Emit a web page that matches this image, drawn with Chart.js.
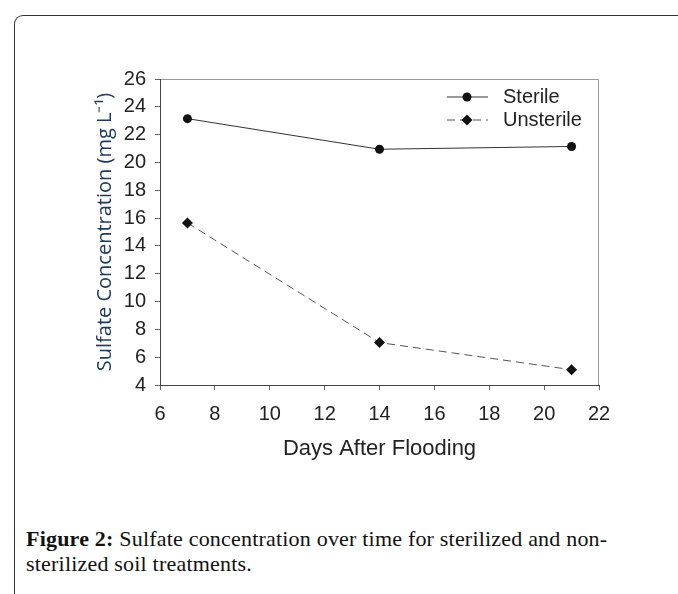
<!DOCTYPE html>
<html>
<head>
<meta charset="utf-8">
<script src="https://cdn.jsdelivr.net/npm/chart.js@4/dist/chart.umd.min.js"></script>
<style>
  body { margin: 0; background: #fff; }
  #wrap { position: relative; width: 678px; height: 594px; overflow: hidden; }
  #frame {
    position: absolute; left: 14px; top: 15px; width: 700px; height: 620px;
    border-left: 1.5px solid #333; border-top: 1.5px solid #333;
    border-top-left-radius: 9px;
  }
  #chartBox { position: absolute; left: 0; top: 0; width: 678px; height: 480px; }
  #caption {
    position: absolute; left: 26px; top: 526px;
    font-family: "Liberation Serif", serif; font-size: 22px; line-height: 25px;
    letter-spacing: 0.2px; color: #111;
  }
</style>
</head>
<body>
<div id="wrap">
  <div id="frame"></div>
  <div id="chartBox"><canvas id="myChart" width="678" height="480"></canvas></div>
  <div id="caption"><b>Figure 2:</b> Sulfate concentration over time for sterilized and non-<br>sterilized soil treatments.</div>
</div>
<script>
const days = [7, 14, 21];
const sterile = [23.15, 20.95, 21.15];
const unsterile = [15.65, 7.05, 5.1];
const xTicks = [6, 8, 10, 12, 14, 16, 18, 20, 22];
const yTicks = [4, 6, 8, 10, 12, 14, 16, 18, 20, 22, 24, 26];

// legend drawn inside the plot: short line + marker + label
const lineLegend = {
  id: 'lineLegend',
  beforeDraw(chart) {
    const { ctx, chartArea: a } = chart;
    ctx.save();
    ctx.strokeStyle = '#999';
    ctx.lineWidth = 1;
    ctx.beginPath();
    ctx.moveTo(a.left, a.top + 0.5);
    ctx.lineTo(a.right - 0.5, a.top + 0.5);
    ctx.lineTo(a.right - 0.5, a.bottom);
    ctx.stroke();
    ctx.restore();
  },
  afterDraw(chart) {
    const ctx = chart.ctx;
    const rows = [97, 120];
    chart.data.datasets.forEach((ds, i) => {
      const y = rows[i];
      ctx.save();
      ctx.strokeStyle = ds.borderColor;
      ctx.lineWidth = ds.borderWidth;
      ctx.setLineDash(ds.borderDash || []);
      ctx.beginPath();
      ctx.moveTo(447, y);
      ctx.lineTo(488, y);
      ctx.stroke();
      ctx.setLineDash([]);
      ctx.fillStyle = ds.pointBackgroundColor;
      Chart.helpers.drawPoint(ctx, { pointStyle: ds.pointStyle, radius: ds.pointRadius, borderWidth: 0 }, 467, y);
      ctx.fillStyle = '#222';
      ctx.font = '20px "Liberation Sans", Arial, sans-serif';
      ctx.textBaseline = 'middle';
      ctx.fillText(ds.label, 503, y);
      ctx.restore();
    });
  }
};

new Chart(document.getElementById('myChart'), {
  type: 'line',
  data: {
    datasets: [
      {
        label: 'Sterile',
        data: days.map((d, i) => ({ x: d, y: sterile[i] })),
        borderColor: '#333',
        borderWidth: 1,
        pointStyle: 'circle',
        pointRadius: 4.5,
        pointBackgroundColor: '#111',
        pointBorderWidth: 0,
        tension: 0
      },
      {
        label: 'Unsterile',
        data: days.map((d, i) => ({ x: d, y: unsterile[i] })),
        borderColor: '#555',
        borderWidth: 1,
        borderDash: [8, 5],
        pointStyle: 'rectRot',
        pointRadius: 5.5,
        pointBackgroundColor: '#111',
        pointBorderWidth: 0,
        tension: 0
      }
    ]
  },
  options: {
    responsive: false,
    animation: false,
    layout: { padding: { top: 79, right: 79, left: 0, bottom: 0 } },
    plugins: { legend: { display: false }, tooltip: { enabled: false } },
    scales: {
      x: {
        type: 'linear',
        min: 6,
        max: 22,
        afterFit(scale) { scale.height = 95; },
        afterBuildTicks(scale) { scale.ticks = xTicks.map(v => ({ value: v })); },
        border: { color: '#444', width: 1 },
        grid: { drawOnChartArea: false, drawTicks: true, tickLength: 5, color: '#666' },
        ticks: { color: '#222', padding: 12, font: { family: '"Liberation Sans", Arial, sans-serif', size: 20 } },
        title: {
          display: true,
          text: 'Days After Flooding',
          color: '#222',
          font: { family: '"Liberation Sans", Arial, sans-serif', size: 22 },
          padding: { top: 0, bottom: 18 }
        }
      },
      y: {
        type: 'linear',
        min: 4,
        max: 26,
        afterFit(scale) { scale.width = 160; },
        afterBuildTicks(scale) { scale.ticks = yTicks.map(v => ({ value: v })); },
        border: { color: '#444', width: 1 },
        grid: { drawOnChartArea: false, drawTicks: true, tickLength: 5, color: '#666' },
        ticks: { color: '#222', padding: 9, font: { family: '"Liberation Sans", Arial, sans-serif', size: 20 } },
        title: {
          display: true,
          text: 'Sulfate Concentration (mg L\u207B\u00B9)',
          color: '#1f3a60',
          font: { family: '"Open Sans", sans-serif', size: 20 },
          padding: { top: 93, bottom: 0 }
        }
      }
    }
  },
  plugins: [lineLegend]
});
</script>
</body>
</html>
